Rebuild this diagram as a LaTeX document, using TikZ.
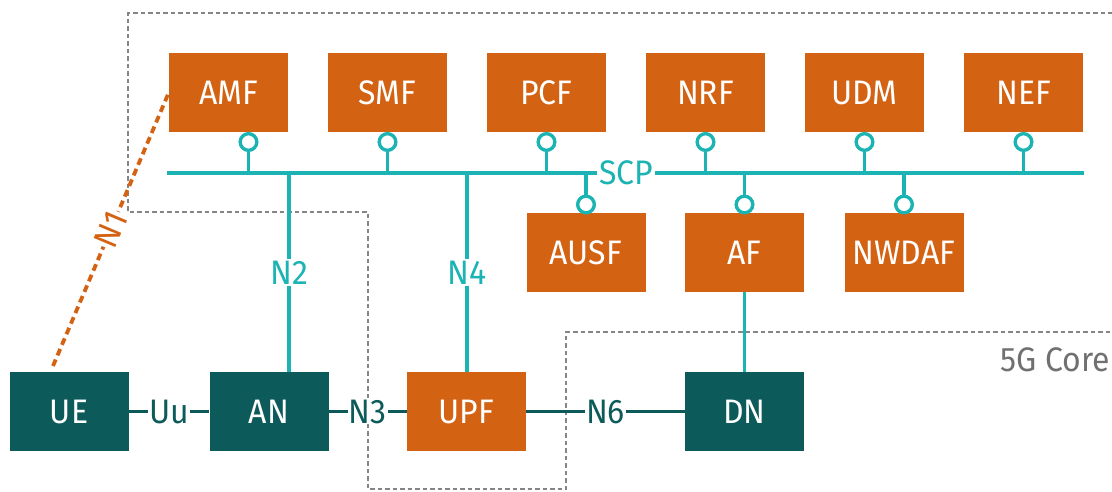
\documentclass[tikz,border=0pt]{standalone}
\usepackage{fontspec}
\setmainfont{Fira Sans}[FakeStretch=0.94]
\definecolor{nfOrange}{HTML}{D46213}
\definecolor{anTeal}{HTML}{0D5A5A}
\definecolor{busTeal}{HTML}{1BB3B3}
\definecolor{coreGray}{HTML}{858585}
\definecolor{labelGray}{HTML}{707070}
\begin{document}
\begin{tikzpicture}[x=1pt,y=-1pt,
  txt/.style={font=\fontsize{34}{34}\selectfont},
  nf/.style={txt, fill=nfOrange, text=white, minimum width=119pt, minimum height=79pt, inner sep=0pt},
  ran/.style={nf, fill=anTeal},
  bus/.style={draw=busTeal, line width=3.2pt},
  link/.style={draw=anTeal, line width=3.2pt},
  sbi/.style={circle, draw=busTeal, fill=white, line width=3.2pt, minimum size=16.5pt, inner sep=0pt},
  buslbl/.style={txt, fill=white, text=busTeal, inner sep=2pt},
  linklbl/.style={txt, fill=white, text=anTeal, inner sep=1pt},
  core/.style={draw=coreGray, line width=2.5pt, dash pattern=on 4.5pt off 3pt},
  n1link/.style={draw=nfOrange, line width=3.8pt, dash pattern=on 7pt off 4.5pt}
]
\useasboundingbox (0,0) rectangle (1112,491);

% 5G core boundary
\begin{scope}
\clip (0,0) rectangle (1112,491);
\draw[core] (1120,13) -- (128,13) -- (128,212) -- (368,212) -- (368,489)
  -- (566,489) -- (566,332) -- (1120,332);
\end{scope}
\node[txt, text=labelGray, anchor=east, inner sep=0pt] (corelbl) at (1110,360) {5G Core};

% service based bus
\coordinate (busL) at (167,173);
\coordinate (busR) at (1084,173);
\draw[bus] (busL) -- (busR);

% network functions, upper row
\node[nf] (AMF) at (228.5,92.5) {AMF};
\node[nf] (SMF) at (387.5,92.5) {SMF};
\node[nf] (PCF) at (546.5,92.5) {PCF};
\node[nf] (NRF) at (705.5,92.5) {NRF};
\node[nf] (UDM) at (864.5,92.5) {UDM};
\node[nf] (NEF) at (1023.5,92.5) {NEF};

% network functions, lower row
\node[nf] (AUSF) at (586,252.5) {AUSF};
\node[nf] (AF) at (744.5,252.5) {AF};
\node[nf] (NWDAF) at (904,252.5) {NWDAF};

% access and user plane
\node[ran] (UE) at (69,411.5) {UE};
\node[ran] (AN) at (269,411.5) {AN};
\node[nf] (UPF) at (466.5,411.5) {UPF};
\node[ran] (DN) at (744.5,411.5) {DN};

% service interfaces of the upper row
\foreach \n/\x in {AMF/248.5, SMF/387.5, PCF/546.5, NRF/705.5, UDM/864.5, NEF/1023.5} {
  \node[sbi] (s\n) at (\x,142) {};
  \draw[bus] (s\n.south) -- (s\n.south |- busL);
  \node[sbi] at (s\n) {};
}
% service interfaces of the lower row
\foreach \n/\x in {AUSF/586, AF/744.5, NWDAF/904} {
  \node[sbi] (s\n) at (\x,204.5) {};
  \draw[bus] (s\n.north) -- (s\n.north |- busL);
  \node[sbi] at (s\n) {};
}
\node[buslbl] (scp) at (626,173) {SCP};

% reference points to the bus
\coordinate (n2top) at (289,173);
\coordinate (n4top) at (467,173);
\draw[bus] (n2top) -- node[buslbl] (n2) {N2} (n2top |- AN.north);
\draw[bus] (n4top) -- node[buslbl] (n4) {N4} (n4top |- UPF.north);
\draw[bus] (AF.south) -- (DN.north);

% user plane chain
\draw[link] (UE) -- node[linklbl] (uu) {Uu} (AN);
\draw[link] (AN) -- node[linklbl] (n3) {N3} (UPF);
\draw[link] (UPF) -- node[linklbl] (n6) {N6} (DN);

% N1 between UE and AMF
\coordinate (n1a) at (53,366);
\draw[n1link] (n1a) -- node[pos=0.5, sloped, txt, fill=white, text=nfOrange, inner sep=1pt] (n1) {N1} (AMF.west);
\end{tikzpicture}
\end{document}
